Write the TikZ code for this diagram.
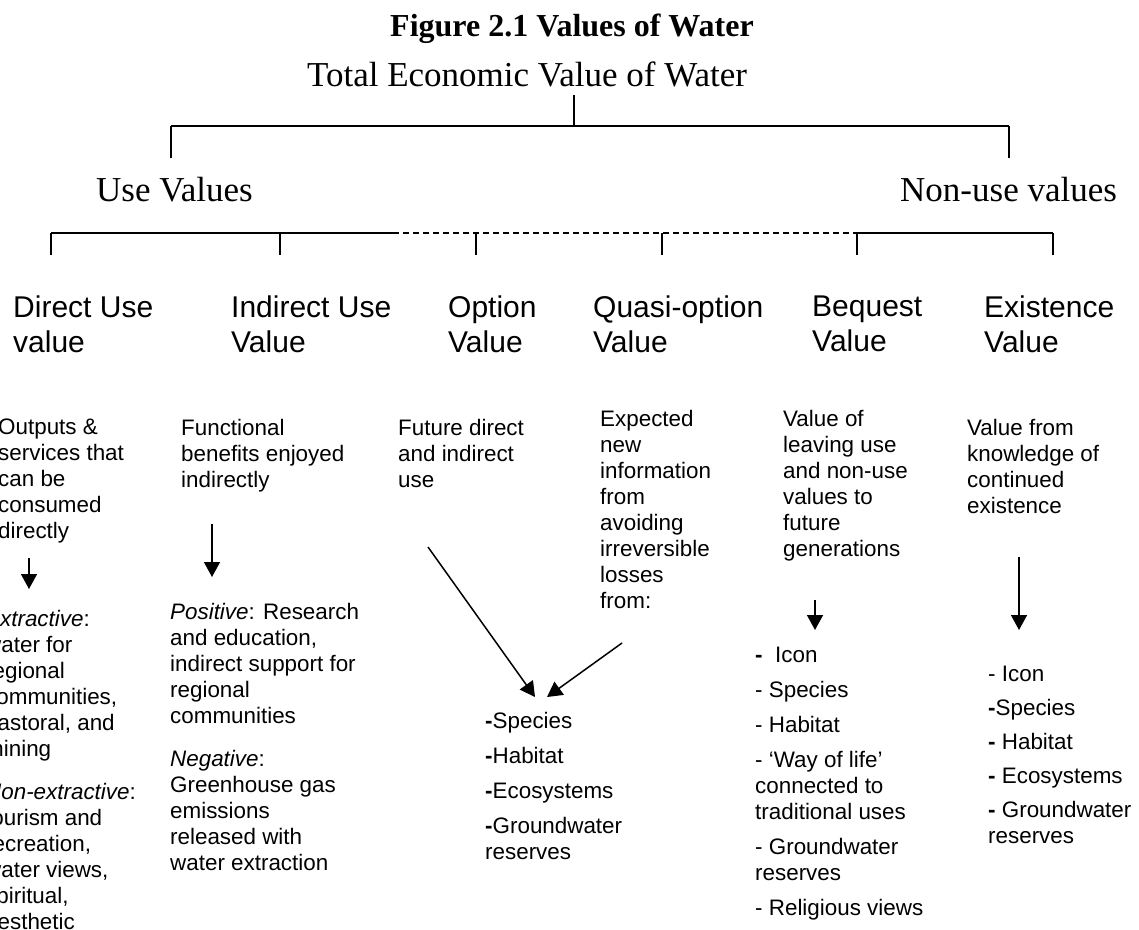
\documentclass[tikz,border=0pt]{standalone}
\usepackage{fontspec}
\setmainfont{Liberation Serif}
\setsansfont{Liberation Sans}
\usetikzlibrary{arrows.meta}
\tikzset{>={Triangle[width=16pt,length=15pt]}}
\newcommand{\bodyfont}{\sffamily\fontsize{22.4}{26}\selectfont}
\newcommand{\catfont}{\sffamily\fontsize{30}{35}\selectfont}
\newcommand{\headfont}{\fontsize{35}{40}\selectfont}
\tikzset{
	desc/.style={anchor=north west,inner sep=0pt,align=left,font=\bodyfont,yshift=18.2pt,execute at begin node=\strut},
	cat/.style={anchor=north west,inner sep=0pt,align=left,font=\catfont,yshift=24.5pt,execute at begin node=\strut},
	head/.style={anchor=base west,inner sep=0pt,font=\headfont},
	tie/.style={line width=1.5pt},
	bar/.style={line width=1.9pt},
	pointer/.style={->,line width=1.5pt}
}

\begin{document}
\begin{tikzpicture}[x=1pt,y=-1pt]
		\path[use as bounding box,fill=white] (0,0) rectangle (1139,929);

		% title and top of the tree
		\node[font=\bfseries\fontsize{32}{38}\selectfont,anchor=base,inner sep=0pt] (fig) at (572,36) {Figure 2.1 Values of Water};
		\node[head,anchor=base] (tev) at (527,86) {Total Economic Value of Water};
		\node[head] (use) at (96,201) {Use Values};
		\node[head] (non) at (900,201) {Non-use values};

		% first split
		\coordinate (hub) at (574,95);
		\coordinate (hubbar) at (574,126);
		\draw[tie] (hub) -- (hubbar);
		\foreach \n/\x in {use/171,non/1009}{
			\coordinate (\n top) at (\x,126);
			\coordinate (\n end) at (\x,158);
			\draw[tie] (\n top) -- (\n end);
		}
		\draw[bar] (usetop) -- (nontop);

		% second split
		\foreach \n/\x in {dir/51,ind/280,opt/476,qua/662,beq/857,exi/1053}{
			\coordinate (\n top) at (\x,233);
			\coordinate (\n end) at (\x,255);
			\draw[tie] (\n top) -- (\n end);
		}
		\coordinate (usesplit) at (393,233);
		\draw[bar] (dirtop) -- (usesplit);
		\draw[tie,dash pattern=on 6pt off 4pt] (usesplit) -- (beqtop);
		\draw[bar] (beqtop) -- (exitop);

		% value types
		\node[cat] (dir) at (13,320) {Direct Use\\value};
		\node[cat] (ind) at (231,320) {Indirect Use\\Value};
		\node[cat] (opt) at (448,320) {Option\\Value};
		\node[cat] (qua) at (593,320) {Quasi-option\\Value};
		\node[cat] (beq) at (812,320) {Bequest\\Value};
		\node[cat] (exi) at (984,320) {Existence\\Value};

		% direct use
		\node[desc] (dirtxt) at (-2,437) {Outputs \&\\services that\\can be\\consumed\\directly};
		\node[desc] (dirlist) at (-15,628) {\textit{Extractive}:\\water for\\regional\\communities,\\pastoral, and\\mining\\[17pt]\textit{Non-extractive}:\\tourism and\\recreation,\\water views,\\spiritual,\\aesthetic};

		% indirect use
		\node[desc] (indtxt) at (181,437) {Functional\\benefits enjoyed\\indirectly};
		\node[desc] (indlist) at (170,621) {\textit{Positive}: Research\\and education,\\indirect support for\\regional\\communities\\[17pt]\textit{Negative}:\\Greenhouse gas\\emissions\\released with\\water extraction};

		% option and quasi-option
		\node[desc] (opttxt) at (398,437) {Future direct\\and indirect\\use};
		\node[desc] (quatxt) at (600,428) {Expected\\new\\information\\from\\avoiding\\irreversible\\losses\\from:};
		\node[desc] (optlist) at (485,730) {{\bfseries -}Species\\[9pt]{\bfseries -}Habitat\\[9pt]{\bfseries -}Ecosystems\\[9pt]{\bfseries -}Groundwater\\reserves};

		% bequest
		\node[desc] (beqtxt) at (783,428) {Value of\\leaving use\\and non-use\\values to\\future\\generations};
		\node[desc] (beqlist) at (755,665) {{\bfseries -}\ \ Icon\\[9pt]- Species\\[9pt]- Habitat\\[9pt]- ‘Way of life’\\connected to\\traditional uses\\[9pt]- Groundwater\\reserves\\[9pt]- Religious views};

		% existence
		\node[desc] (exitxt) at (967,437) {Value from\\knowledge of\\continued\\existence};
		\node[desc] (exilist) at (988,684) {- Icon\\[8pt]{\bfseries -}Species\\[8pt]{\bfseries -} Habitat\\[8pt]{\bfseries -} Ecosystems\\[8pt]{\bfseries -} Groundwater\\reserves};

		% arrows
		\coordinate (dirA) at (29,558);   \coordinate (dirB) at (29,589);
		\coordinate (indA) at (212,524);  \coordinate (indB) at (212,577);
		\coordinate (optA) at (428,547);  \coordinate (optB) at (535,697);
		\coordinate (quaA) at (622,643);  \coordinate (quaB) at (547,697);
		\coordinate (beqA) at (815,600);  \coordinate (beqB) at (815,630);
		\coordinate (exiA) at (1019,557); \coordinate (exiB) at (1019,630);
		\foreach \n in {dir,ind,opt,qua,beq,exi}
			\draw[pointer] (\n A) -- (\n B);

\end{tikzpicture}
\end{document}
